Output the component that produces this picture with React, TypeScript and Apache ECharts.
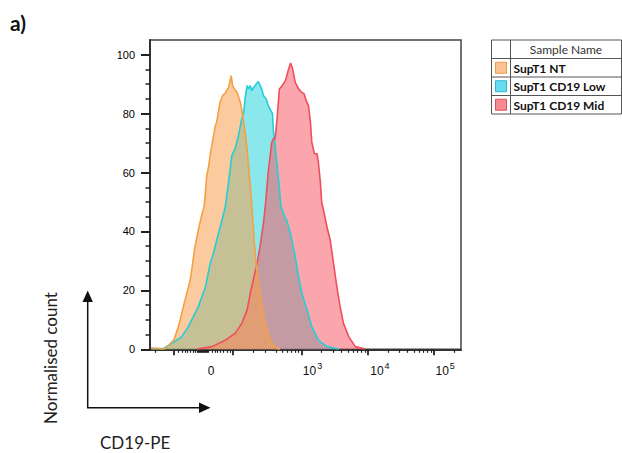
import React, { useEffect, useRef } from "react";
import * as echarts from "echarts";

// x values are in display decades of the biexponential (logicle) FlowJo axis:
// 3 = 10^3, 4 = 10^4, 5 = 10^5 ; the zero of the axis sits at about 1.52
const seriesNames = ["SupT1 NT", "SupT1 CD19 Low", "SupT1 CD19 Mid"];

const supT1NT: [number, number][] = [
  [0.72, 0.3], [0.93, 0.2], [1.06, 3.1], [1.13, 7.7], [1.23, 16.7], [1.31, 23.5],
  [1.38, 34.7], [1.43, 40.4], [1.49, 46.1], [1.52, 48.5], [1.56, 59.0], [1.59, 62.4],
  [1.61, 65.8], [1.69, 76.0], [1.71, 77.1], [1.76, 83.8], [1.8, 86.1], [1.84, 87.0],
  [1.89, 88.9], [1.93, 92.9], [1.95, 89.5], [1.98, 88.4], [2.02, 87.2], [2.07, 83.8],
  [2.1, 79.9], [2.14, 73.7], [2.17, 68.1], [2.2, 60.1], [2.23, 52.3], [2.27, 39.4],
  [2.3, 30.2], [2.34, 22.4], [2.39, 15.6], [2.44, 8.9], [2.52, 3.1], [2.6, 0.4], [2.67, 0.1],
];

const supT1CD19Low: [number, number][] = [
  [0.72, 0.3], [0.9, 0.2], [1.03, 2.0], [1.18, 4.3], [1.28, 7.7], [1.43, 14.4],
  [1.54, 21.2], [1.61, 29.1], [1.66, 32.5], [1.71, 37.0], [1.79, 43.8], [1.84, 48.3],
  [1.89, 56.8], [1.94, 65.8], [1.99, 68.1], [2.04, 72.6], [2.09, 78.2], [2.12, 80.5],
  [2.14, 85.0], [2.17, 89.5], [2.19, 88.4], [2.22, 89.5], [2.24, 87.8], [2.27, 88.9],
  [2.31, 90.1], [2.34, 90.9], [2.37, 89.5], [2.39, 88.4], [2.42, 86.1], [2.46, 85.0],
  [2.49, 82.7], [2.53, 81.0], [2.555, 80.0], [2.57, 73.7], [2.59, 70.3], [2.62, 63.5],
  [2.66, 54.5], [2.68, 48.9], [2.72, 46.1], [2.77, 43.8], [2.8, 41.5], [2.85, 37.0],
  [2.9, 31.4], [2.95, 24.6], [3.0, 19.0], [3.08, 13.3], [3.15, 7.7], [3.25, 3.1],
  [3.38, 0.9], [3.56, 0.1],
];

const supT1CD19Mid: [number, number][] = [
  [1.41, 0.1], [1.64, 0.9], [1.84, 3.1], [1.99, 5.4], [2.09, 8.8], [2.17, 13.3],
  [2.22, 19.1], [2.27, 24.1], [2.32, 29.1], [2.37, 35.3], [2.42, 43.1], [2.45, 49.5],
  [2.49, 60.1], [2.545, 70.3], [2.57, 71.5], [2.595, 71.5], [2.62, 77.1], [2.66, 88.4],
  [2.7, 89.5], [2.75, 91.2], [2.8, 95.2], [2.83, 97.2], [2.86, 95.2], [2.9, 90.6],
  [2.95, 88.4], [3.0, 87.2], [3.035, 86.7], [3.065, 84.4], [3.1, 82.7], [3.13, 77.1],
  [3.15, 70.3], [3.19, 66.4], [3.23, 66.4], [3.25, 63.5], [3.28, 56.8], [3.3, 50.0],
  [3.35, 44.9], [3.38, 41.5], [3.43, 37.0], [3.48, 29.1], [3.53, 21.2], [3.58, 14.4],
  [3.63, 8.8], [3.71, 4.3], [3.81, 0.9], [3.96, 0.1],
];

// axis ticks / labels (display decades)
const xMin = 0.7;
const xMax = 5.41;
const xLabelPositions = [1.575, 3.015, 4.035, 5.024];
const xLabelTexts = ["{b|0}", "{b|10}{s|3}", "{b|10}{s|4}", "{b|10}{s|5}"];
const xMajorTicks = [1.065, 1.96, 3, 4, 5];
const xMinorTicksLow = [
  0.785, 1.126, 1.182, 1.232, 1.267, 1.308, 1.348, 1.383, 1.409, 1.429, 1.444, 1.459,
  1.474, 1.489, 1.505, 1.52, 1.535, 1.55, 1.565, 1.58, 1.636, 1.686, 1.721, 1.762,
  1.812, 1.864, 1.914, 2.262, 2.444, 2.611, 2.709, 2.785, 2.845, 2.898, 2.948,
];
const xMinorMultipliers = [2, 3, 4, 5, 6, 7, 8, 9];
const yMajorTicks = [0, 20, 40, 60, 80, 100];
const yMinorTicks = [5, 10, 15, 25, 30, 35, 45, 50, 55, 65, 70, 75, 85, 90, 95];
const yMin = 0;
const yMax = 105;

const lineColors = ["#f4a043", "#22cfd6", "#ee4f5b"];
const areaColors = ["#f7a050", "#2ad4dc", "#f65c68"];
const swatchFill = ["#fbc38f", "#66dcee", "#f58b91"];
const swatchBorder = ["#ee9a48", "#25b9d0", "#e0505c"];

export default function App() {
  const ref = useRef<HTMLDivElement>(null);
  useEffect(() => {
    if (!ref.current) return;
    const chart = echarts.init(ref.current, undefined, { renderer: "svg" });

    const xMinorTicks: number[] = [...xMinorTicksLow];
    [3, 4].forEach((d) => xMinorMultipliers.forEach((m) => xMinorTicks.push(d + Math.log10(m))));
    xMinorTicks.push(5 + Math.log10(2));

    const labelFor = (v: number) => {
      let best = 0;
      xLabelPositions.forEach((p, i) => {
        if (Math.abs(p - v) < Math.abs(xLabelPositions[best] - v)) best = i;
      });
      return xLabelTexts[best];
    };

    const mkSeries = (idx: number, data: [number, number][]) => ({
      name: seriesNames[idx],
      type: "line",
      data,
      symbol: "none",
      showSymbol: false,
      smooth: false,
      xAxisIndex: 0,
      yAxisIndex: 0,
      lineStyle: { color: lineColors[idx], width: 1.6 },
      itemStyle: { color: lineColors[idx] },
      areaStyle: { color: areaColors[idx], opacity: 0.55, origin: "start" },
    });

    const axisLineStyle = { color: "#333", width: 2 };
    const font = "Liberation Sans";

    const legendX = 491.5;
    const legendY = 40;
    const legendW = 130;
    const rowH = 18.5;
    const colX = 510.5;
    const legendGraphics: any[] = [
      {
        type: "rect",
        shape: { x: legendX, y: legendY, width: legendW, height: rowH * 4 },
        style: { fill: "#fff", stroke: "#555", lineWidth: 1 },
      },
      {
        type: "line",
        shape: { x1: colX, y1: legendY, x2: colX, y2: legendY + rowH * 4 },
        style: { stroke: "#555", lineWidth: 1 },
      },
      {
        type: "text",
        x: (colX + legendX + legendW) / 2,
        y: legendY + rowH / 2 + 0.5,
        style: {
          text: "Sample Name",
          font: "12px Lato",
          fill: "#333",
          align: "center",
          verticalAlign: "middle",
          textAlign: "center",
          textVerticalAlign: "middle",
        },
      },
    ];
    for (let r = 1; r < 4; r++) {
      legendGraphics.push({
        type: "line",
        shape: { x1: legendX, y1: legendY + rowH * r, x2: legendX + legendW, y2: legendY + rowH * r },
        style: { stroke: "#555", lineWidth: 1 },
      });
    }
    seriesNames.forEach((name, i) => {
      const cy = legendY + rowH * (i + 1) + rowH / 2;
      legendGraphics.push({
        type: "rect",
        shape: { x: 495.5, y: cy - 5.5, width: 11, height: 11 },
        style: { fill: swatchFill[i], stroke: swatchBorder[i], lineWidth: 1 },
      });
      legendGraphics.push({
        type: "text",
        x: 513.5,
        y: cy + 0.5,
        style: {
          text: name,
          font: "bold 12px Lato",
          fill: "#111",
          align: "left",
          verticalAlign: "middle",
          textAlign: "left",
          textVerticalAlign: "middle",
        },
      });
    });

    const option: any = {
      animation: false,
      backgroundColor: "#fff",
      grid: {
        left: 150,
        right: 161,
        top: 40,
        bottom: 103.7,
        show: true,
        borderColor: "#444",
        borderWidth: 1.5,
        backgroundColor: "transparent",
      },
      xAxis: [
        {
          type: "value",
          min: xMin,
          max: xMax,
          position: "bottom",
          axisLine: { show: true, lineStyle: axisLineStyle },
          axisTick: { show: true, customValues: xMajorTicks, length: 6, lineStyle: { color: "#222", width: 1.8 } },
          axisLabel: {
            show: true,
            customValues: xLabelPositions,
            formatter: (v: number) => labelFor(v),
            align: "left",
            margin: 12,
            rich: {
              b: { fontSize: 12, fontFamily: font, color: "#111", lineHeight: 16, verticalAlign: "bottom" },
              s: {
                fontSize: 9,
                fontFamily: font,
                color: "#111",
                lineHeight: 10,
                verticalAlign: "bottom",
                padding: [0, 0, 7, 1],
              },
            },
          },
          splitLine: { show: false },
        },
        {
          type: "value",
          min: xMin,
          max: xMax,
          position: "bottom",
          axisLine: { show: false },
          axisTick: { show: true, customValues: xMinorTicks, length: 3.5, lineStyle: { color: "#222", width: 1.2 } },
          axisLabel: { show: false },
          splitLine: { show: false },
        },
      ],
      yAxis: [
        {
          type: "value",
          min: yMin,
          max: yMax,
          position: "left",
          axisLine: { show: true, lineStyle: axisLineStyle },
          axisTick: { show: true, customValues: yMajorTicks, length: 9, lineStyle: { color: "#222", width: 2 } },
          axisLabel: {
            show: true,
            customValues: yMajorTicks,
            margin: 15,
            fontSize: 11,
            fontFamily: font,
            color: "#000",
          },
          splitLine: { show: false },
        },
        {
          type: "value",
          min: yMin,
          max: yMax,
          position: "left",
          axisLine: { show: false },
          axisTick: { show: true, customValues: yMinorTicks, length: 4.5, lineStyle: { color: "#222", width: 1.5 } },
          axisLabel: { show: false },
          splitLine: { show: false },
        },
      ],
      series: [
        mkSeries(1, supT1CD19Low),
        mkSeries(2, supT1CD19Mid),
        mkSeries(0, supT1NT),
      ],
      graphic: [
        {
          type: "text",
          x: 10,
          y: 22,
          style: {
            text: "a)",
            font: "bold 21px Lato",
            fill: "#111",
            align: "left",
            verticalAlign: "middle",
            textAlign: "left",
            textVerticalAlign: "middle",
          },
        },
        {
          type: "text",
          x: 50,
          y: 358,
          rotation: Math.PI / 2,
          style: {
            text: "Normalised count",
            font: "17px Lato",
            fill: "#222",
            align: "center",
            verticalAlign: "middle",
            textAlign: "center",
            textVerticalAlign: "middle",
          },
        },
        {
          type: "text",
          x: 100,
          y: 442,
          style: {
            text: "CD19-PE",
            font: "17px Lato",
            fill: "#222",
            align: "left",
            verticalAlign: "middle",
            textAlign: "left",
            textVerticalAlign: "middle",
          },
        },
        {
          type: "line",
          shape: { x1: 87.7, y1: 300, x2: 87.7, y2: 408 },
          style: { stroke: "#111", lineWidth: 1.5 },
        },
        {
          type: "polygon",
          shape: { points: [[87.7, 290.5], [82.5, 302], [92.9, 302]] },
          style: { fill: "#111" },
        },
        {
          type: "line",
          shape: { x1: 87, y1: 407.8, x2: 201, y2: 407.8 },
          style: { stroke: "#111", lineWidth: 1.5 },
        },
        {
          type: "polygon",
          shape: { points: [[210.5, 407.8], [199, 402.6], [199, 413]] },
          style: { fill: "#111" },
        },
        ...legendGraphics,
      ],
    };
    chart.setOption(option);
    return () => chart.dispose();
  }, []);

  return (
    <div
      ref={ref}
      style={{ position: "fixed", left: 0, top: 0, width: 622, height: 453, background: "#fff" }}
    />
  );
}
